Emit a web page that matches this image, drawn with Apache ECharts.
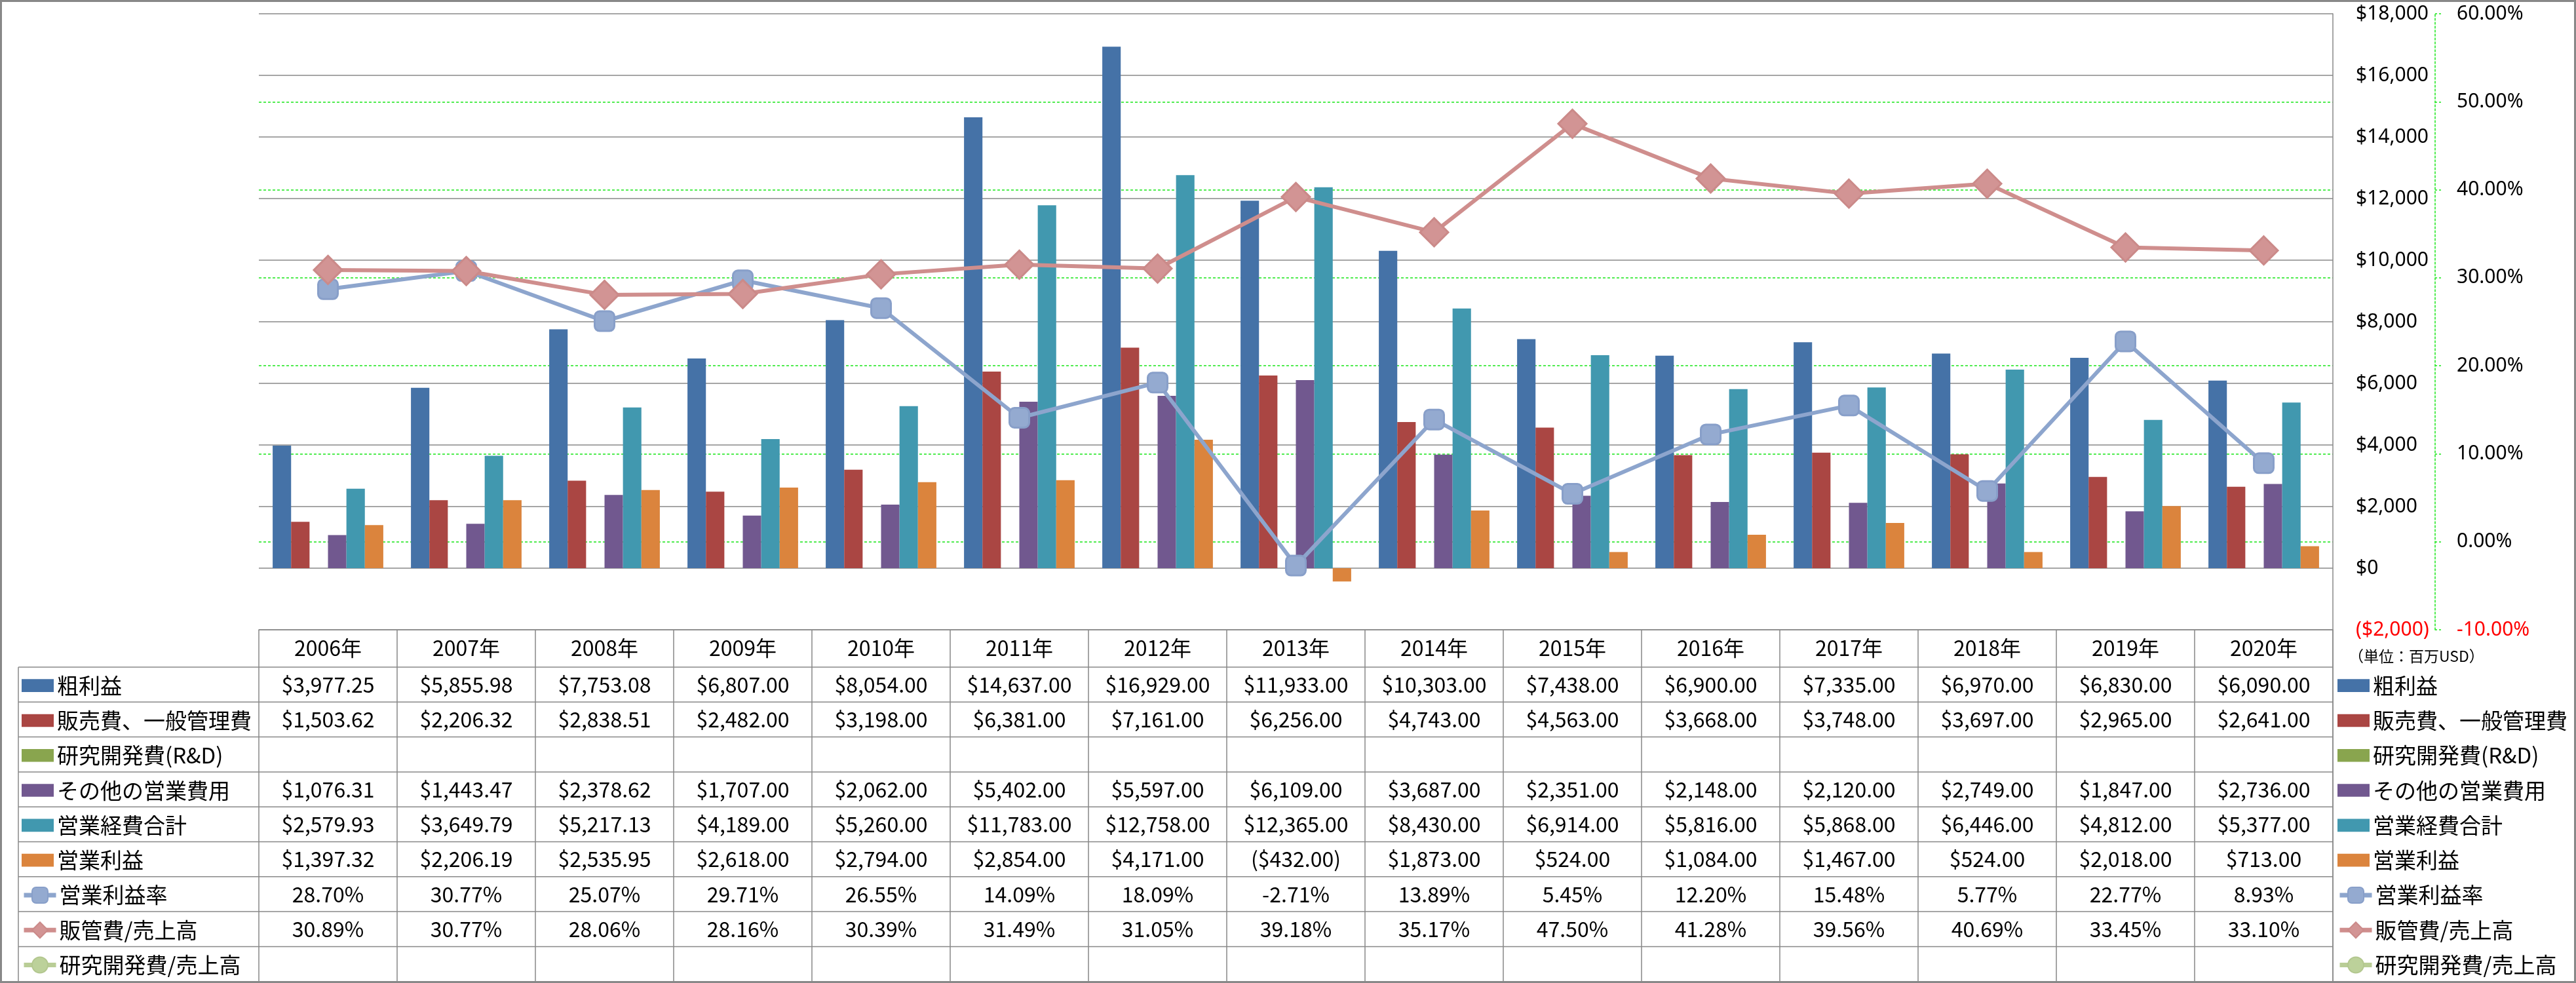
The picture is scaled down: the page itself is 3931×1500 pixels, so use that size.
<!DOCTYPE html>
<html>
<head>
<meta charset="utf-8">
<script src="https://cdn.jsdelivr.net/npm/echarts@6/dist/echarts.min.js"></script>
<style>
html,body{margin:0;padding:0;background:#fff;}
#c{width:3931px;height:1500px;}
</style>
</head>
<body>
<div id="c"></div>
<script>
// ---------------- data ----------------
const years = ['2006年','2007年','2008年','2009年','2010年','2011年','2012年','2013年','2014年','2015年','2016年','2017年','2018年','2019年','2020年'];
const grossProfit = [3977.25,5855.98,7753.08,6807.00,8054.00,14637.00,16929.00,11933.00,10303.00,7438.00,6900.00,7335.00,6970.00,6830.00,6090.00];
const sgaExpense  = [1503.62,2206.32,2838.51,2482.00,3198.00,6381.00,7161.00,6256.00,4743.00,4563.00,3668.00,3748.00,3697.00,2965.00,2641.00];
const rndExpense  = [null,null,null,null,null,null,null,null,null,null,null,null,null,null,null];
const otherOpex   = [1076.31,1443.47,2378.62,1707.00,2062.00,5402.00,5597.00,6109.00,3687.00,2351.00,2148.00,2120.00,2749.00,1847.00,2736.00];
const totalOpex   = [2579.93,3649.79,5217.13,4189.00,5260.00,11783.00,12758.00,12365.00,8430.00,6914.00,5816.00,5868.00,6446.00,4812.00,5377.00];
const opIncome    = [1397.32,2206.19,2535.95,2618.00,2794.00,2854.00,4171.00,-432.00,1873.00,524.00,1084.00,1467.00,524.00,2018.00,713.00];
const opMargin    = [28.70,30.77,25.07,29.71,26.55,14.09,18.09,-2.71,13.89,5.45,12.20,15.48,5.77,22.77,8.93];
const sgaRatio    = [30.89,30.77,28.06,28.16,30.39,31.49,31.05,39.18,35.17,47.50,41.28,39.56,40.69,33.45,33.10];
const rndRatio    = [null,null,null,null,null,null,null,null,null,null,null,null,null,null,null];
const seriesNames = ['粗利益','販売費、一般管理費','研究開発費(R&D)','その他の営業費用','営業経費合計','営業利益','営業利益率','販管費/売上高','研究開発費/売上高'];
const unitNote = '（単位：百万USD）';
const moneyAxis = {min:-2000, max:18000, interval:2000};
const pctAxis = {min:-10, max:60, interval:10};

// ---------------- styling / layout ----------------
const FONT_CJK = '"Noto Sans CJK JP", "Noto Sans", sans-serif';
const FONT_AXIS = '"Noto Sans", "Noto Sans CJK JP", sans-serif';
const GRAY = '#888888';
const GREEN = '#19e619';
const barColors = ['#4572A7','#AA4643','#89A54E','#71588F','#4198AF','#DB843D'];
const HEADER_H = 57;
const ROW_H = 53.3;
const TABLE_LEFT = 28;
const LEG_ICON_H = 30;

function fmtMoney(v, dec){
  const s = Math.abs(v).toLocaleString('en-US',{minimumFractionDigits:dec, maximumFractionDigits:dec});
  return v < 0 ? '($' + s + ')' : '$' + s;
}
function fmtPct(v){ return v.toFixed(2) + '%'; }

const barData = [grossProfit, sgaExpense, rndExpense, otherOpex, totalOpex, opIncome];
const lineData = [opMargin, sgaRatio, rndRatio];
const lineColors = [
  {line:'#8DA5CD', fill:'#94AAD0', border:'#889FC9', symbol:'roundRect', size:30},
  {line:'#CF8E8D', fill:'#D29494', border:'#CB8A89', symbol:'diamond', size:43},
  {line:'#B9CD96', fill:'#BCD19A', border:'#B3C78F', symbol:'circle', size:30}
];

const series = [];
barData.forEach((d,i)=>{
  series.push({
    name: seriesNames[i], type:'bar', data:d, yAxisIndex:0,
    barGap:'0%', barCategoryGap:'20%',
    itemStyle:{color:barColors[i]}
  });
});
lineData.forEach((d,i)=>{
  const c = lineColors[i];
  series.push({
    name: seriesNames[6+i], type:'line', data:d, yAxisIndex:1, z:5,
    symbol:c.symbol, symbolSize:c.size, showSymbol:true,
    lineStyle:{color:c.line, width:6},
    itemStyle:{color:c.fill, borderColor:c.border, borderWidth:3}
  });
});

const barIcon = 'path://M0,0H45V18H0Z';
// one single-item legend per table row, on both sides of the table
function makeLegends(rowsTop){
  const out = [];
  seriesNames.forEach((n,i)=>{
    const top = rowsTop + i*ROW_H + ROW_H/2 - LEG_ICON_H/2;
    [33, 3567].forEach(left=>{
      out.push({
        orient:'vertical', left:left, top:top, padding:0,
        itemWidth:49, itemHeight:LEG_ICON_H, itemGap:0,
        selectedMode:false,
        data:[i < 6 ? {name:n, icon:barIcon} : {name:n}],
        lineStyle:{width:7},
        textStyle:{fontSize:33, lineHeight:LEG_ICON_H, fontFamily:FONT_CJK, color:'#000', padding:0}
      });
    });
  });
  return out;
}

const option = {
  animation:false,
  backgroundColor:'#ffffff',
  grid:{left:395, right:371, top:21, bottom:539, containLabel:false},
  xAxis:{
    type:'category', data:years, boundaryGap:true,
    axisLine:{onZero:false, lineStyle:{color:GRAY, width:1.5}},
    axisTick:{show:true, interval:0, length:536, lineStyle:{color:GRAY, width:1.5}},
    axisLabel:{interval:0, margin:28, verticalAlign:'middle', fontSize:32, fontFamily:FONT_CJK, color:'#000'},
    splitLine:{show:false}
  },
  yAxis:[
    {
      type:'value', position:'right', min:moneyAxis.min, max:moneyAxis.max, interval:moneyAxis.interval,
      axisLine:{show:true, lineStyle:{color:GRAY, width:1.5}},
      axisTick:{show:false},
      axisLabel:{margin:35, fontSize:30, fontFamily:FONT_AXIS,
        formatter:(v)=>fmtMoney(v,0),
        color:(v)=> (Number(v) < 0 ? '#ff0000' : '#000000')},
      splitLine:{show:true, lineStyle:{color:GRAY, width:1.5}}
    },
    {
      type:'value', position:'right', offset:156, min:pctAxis.min, max:pctAxis.max, interval:pctAxis.interval,
      axisLine:{show:true, lineStyle:{color:GREEN, width:1.5, type:[3,3]}},
      axisTick:{show:true, inside:false, length:11, lineStyle:{color:GREEN, width:1.5, type:[3,3]}},
      axisLabel:{margin:33, fontSize:30, fontFamily:FONT_AXIS,
        formatter:(v)=>fmtPct(v),
        color:(v)=> (Number(v) < 0 ? '#ff0000' : '#000000')},
      splitLine:{show:true, showMinLine:false, showMaxLine:false, lineStyle:{color:GREEN, width:1.5, type:[4,3]}}
    }
  ],
  series: series
};

const chart = echarts.init(document.getElementById('c'), null, {renderer:'canvas'});
chart.setOption(option);

// ---------------- data table built from the arrays ----------------
const tableTop = chart.convertToPixel({yAxisIndex:0}, moneyAxis.min);
const plotRight = chart.convertToPixel({xAxisIndex:0}, years.length-1) +
  (chart.convertToPixel({xAxisIndex:0}, 1) - chart.convertToPixel({xAxisIndex:0}, 0))/2;
const rowsTop = tableTop + HEADER_H;
const nRows = seriesNames.length;
const tableBottom = rowsTop + nRows*ROW_H;

const rowTexts = [
  grossProfit.map(v=>fmtMoney(v,2)),
  sgaExpense.map(v=>fmtMoney(v,2)),
  rndExpense.map(v=> v==null ? '' : fmtMoney(v,2)),
  otherOpex.map(v=>fmtMoney(v,2)),
  totalOpex.map(v=>fmtMoney(v,2)),
  opIncome.map(v=>fmtMoney(v,2)),
  opMargin.map(v=>fmtPct(v)),
  sgaRatio.map(v=>fmtPct(v)),
  rndRatio.map(v=> v==null ? '' : fmtPct(v))
];

const graphics = [];
for (let r=0; r<nRows; r++){
  const y = rowsTop + r*ROW_H;
  graphics.push({type:'line', silent:true, shape:{x1:TABLE_LEFT, y1:y, x2:plotRight, y2:y},
    style:{stroke:GRAY, lineWidth:1.5}});
}
graphics.push({type:'line', silent:true, shape:{x1:TABLE_LEFT, y1:rowsTop, x2:TABLE_LEFT, y2:tableBottom},
  style:{stroke:GRAY, lineWidth:1.5}});
graphics.push({type:'line', silent:true, shape:{x1:plotRight, y1:tableTop, x2:plotRight, y2:tableBottom},
  style:{stroke:GRAY, lineWidth:1.5}});
rowTexts.forEach((row, r)=>{
  const cy = rowsTop + r*ROW_H + ROW_H/2;
  row.forEach((t, ci)=>{
    if (!t) return;
    const cx = chart.convertToPixel({xAxisIndex:0}, ci);
    graphics.push({type:'text', silent:true, style:{text:t, x:cx, y:cy, align:'center', verticalAlign:'middle',
      fontSize:32, fontFamily:FONT_CJK, fill:'#000'}});
  });
});
graphics.push({type:'text', silent:true, style:{text:unitNote, x:3584, y:tableTop+40, align:'left', verticalAlign:'middle',
  fontSize:23, fontFamily:FONT_CJK, fill:'#000'}});
graphics.push({type:'rect', silent:true, shape:{x:1.5, y:1.5, width:3931-3, height:1500-3},
  style:{fill:null, stroke:GRAY, lineWidth:3}});

chart.setOption({
  graphic: graphics,
  legend: makeLegends(rowsTop)
});
</script>
</body>
</html>
